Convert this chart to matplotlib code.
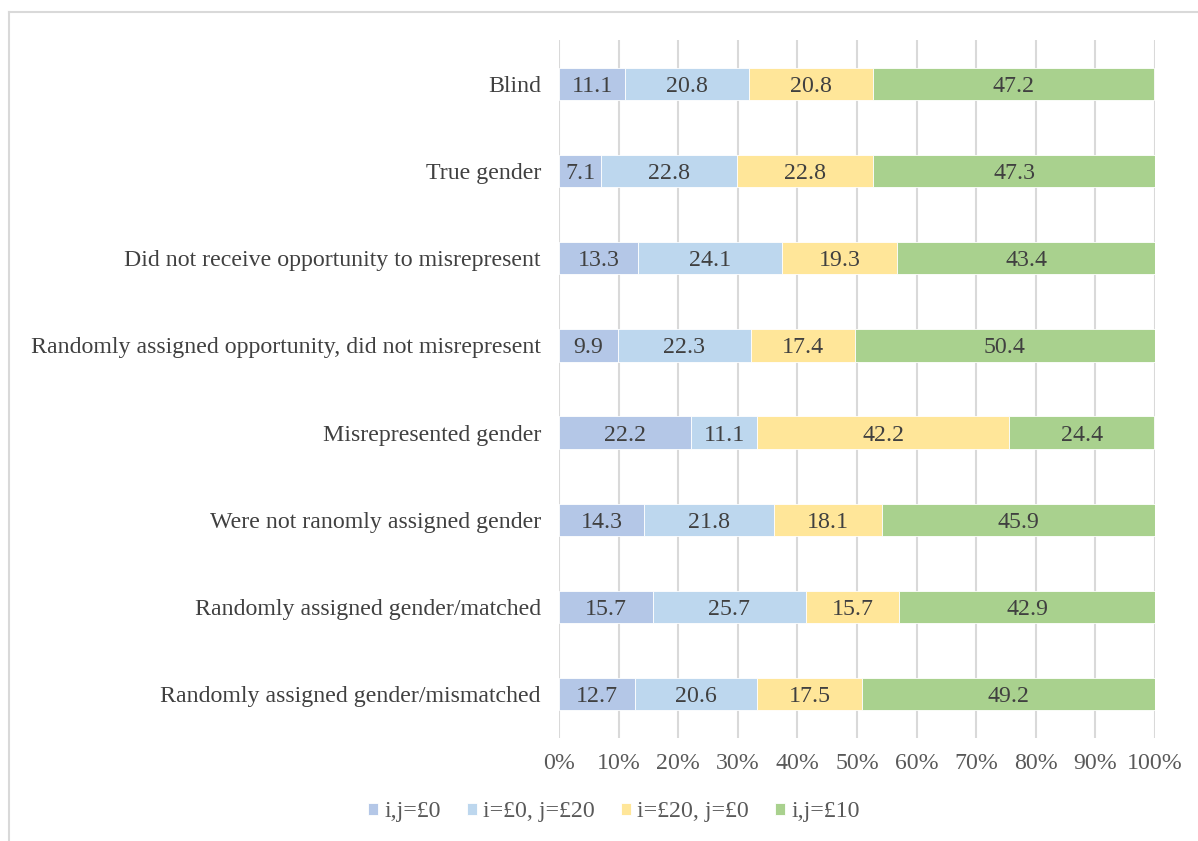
import matplotlib
matplotlib.use("Agg")
import matplotlib.pyplot as plt
from matplotlib.lines import Line2D
import numpy as np

categories = [
    "Blind",
    "True gender",
    "Did not receive opportunity to misrepresent",
    "Randomly assigned opportunity, did not misrepresent",
    "Misrepresented gender",
    "Were not ranomly assigned gender",
    "Randomly assigned gender/matched",
    "Randomly assigned gender/mismatched",
]
series_names = ["i,j=£0", "i=£0, j=£20", "i=£20, j=£0", "i,j=£10"]
s_ij0 = [11.1, 7.1, 13.3, 9.9, 22.2, 14.3, 15.7, 12.7]
s_i0_j20 = [20.8, 22.8, 24.1, 22.3, 11.1, 21.8, 25.7, 20.6]
s_i20_j0 = [20.8, 22.8, 19.3, 17.4, 42.2, 18.1, 15.7, 17.5]
s_ij10 = [47.2, 47.3, 43.4, 50.4, 24.4, 45.9, 42.9, 49.2]
colors = ["#B4C7E7", "#BDD7EE", "#FFE699", "#A9D18E"]
xticklabels = ["0%", "10%", "20%", "30%", "40%", "50%", "60%", "70%", "80%", "90%", "100%"]

plt.rcParams['font.family'] = ['Liberation Serif', 'DejaVu Serif']
FS = 17.2

fig = plt.figure(figsize=(11.98, 8.41), dpi=100)
ax = fig.add_axes([559/1198, 1-737.7/841, (1155-559)/1198, (737.7-40.3)/841])

data = [s_ij0, s_i0_j20, s_i20_j0, s_ij10]
y = np.arange(len(categories))
left = np.zeros(len(categories))
for name, vals, c in zip(series_names, data, colors):
    vals = np.array(vals)
    ax.barh(y, vals, left=left, height=0.37, color=c, label=name,
            edgecolor="white", linewidth=0.6, zorder=3)
    for yi, l, v in zip(y, left, vals):
        ax.text(l + v/2, yi, f"{v:.1f}", ha="center", va="center_baseline",
                fontsize=FS, color="#404040", zorder=4)
    left += vals

ax.set_ylim(len(categories)-0.5, -0.5)
ax.set_xlim(0, 100)
ax.set_yticks(y)
ax.set_yticklabels(categories, fontsize=FS, color="#404040")
ax.set_xticks(np.arange(0, 101, 10))
ax.set_xticklabels(xticklabels, fontsize=FS, color="#595959")
ax.tick_params(axis='both', length=0)
ax.tick_params(axis='y', pad=13)
ax.tick_params(axis='x', pad=11)
ax.grid(axis='x', color="#D9D9D9", linewidth=1.5, zorder=0)
ax.set_axisbelow(True)
for s in ax.spines.values():
    s.set_visible(False)

fig.legend(loc="center", bbox_to_anchor=(0.5125, 1-812/841), ncol=4,
           frameon=False, fontsize=FS, handlelength=0.42, handleheight=0.42,
           handletextpad=0.25, columnspacing=1.1, labelcolor="#595959")

fig.add_artist(Line2D([8.5/1198, 8.5/1198], [0, 1-12/841], transform=fig.transFigure,
                      color="#D9D9D9", linewidth=1.5))
fig.add_artist(Line2D([8.5/1198, 1], [1-12/841, 1-12/841], transform=fig.transFigure,
                      color="#D9D9D9", linewidth=1.5))

fig.savefig("out.png", dpi=100)
